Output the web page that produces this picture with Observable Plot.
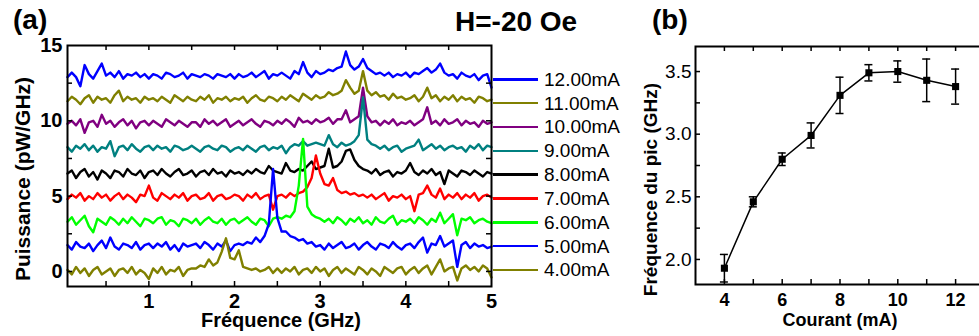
<!DOCTYPE html>
<html><head><meta charset="utf-8">
<script src="https://cdn.jsdelivr.net/npm/d3@7"></script>
<script src="https://cdn.jsdelivr.net/npm/@observablehq/plot@0.6"></script>
<style>
html,body{margin:0;padding:0;background:#fff;overflow:hidden}
#root{position:relative;width:979px;height:336px;overflow:hidden;font-family:Arial,"Liberation Sans",sans-serif}
#legend{position:absolute;left:493px;top:67.4px;font-size:19px;color:#000}
#legend .row{display:flex;align-items:center;height:23.84px}
#legend .sw{display:inline-block;width:45px;height:2.5px;margin-right:6px}
#legend .lb{line-height:1;white-space:nowrap}
</style></head>
<body><div id="root"></div>
<script>
// ---------- DATA ----------
const currents = [4, 5, 6, 7, 8, 9, 10, 11, 12];               // mA
const colors = ["#808000", "#0000ff", "#00ff00", "#ff0000", "#000000", "#008080", "#800080", "#808000", "#0000ff"];
const offsets = [0, 1.65, 3.3, 4.9, 6.5, 8.15, 9.8, 11.4, 13.0]; // vertical stacking offsets (pW/GHz)
const freqStart = 0.05, freqStep = 0.05, freqCount = 100;       // GHz sampling grid
const freq = d3.range(freqCount).map(i => +(freqStart + i * freqStep).toFixed(2));

// power spectral density (pW/GHz, relative to each trace's offset)
const p4 = [
 0.1,-0.2,0.3,-0.1,0.2,-0.3,0.1,0.3,-0.2,0.0,
 0.2,-0.3,0.1,0.2,-0.1,0.3,-0.2,0.1,-0.1,-0.5,
 0.2,-0.1,0.3,-0.2,0.1,0.0,0.3,-0.3,0.1,0.2,
 0.2,0.4,0.3,0.8,0.4,0.6,1.3,2.2,0.9,0.8,
 1.4,0.3,0.2,0.1,0.2,0.0,0.1,0.3,-0.1,0.2,
 -0.1,0.2,0.0,0.3,-0.2,0.1,0.2,-0.1,0.3,0.0,
 0.2,-0.3,0.1,0.3,-0.1,0.2,0.0,-0.2,0.3,0.1,
 -0.2,0.2,0.0,-0.3,0.3,0.1,-0.1,0.2,0.3,-0.2,
 0.1,0.3,-0.1,0.2,0.4,-0.2,0.3,0.8,0.0,0.2,
 0.3,-0.6,0.2,0.4,0.1,0.3,0.0,0.4,0.2,-0.4];
const p5 = [
 0.1,-0.2,0.3,0.0,-0.1,0.2,-0.3,0.1,0.4,-0.1,
 0.6,0.0,-0.2,0.2,0.1,-0.1,0.3,-0.2,0.1,0.2,
 -0.1,0.2,0.0,0.3,-0.2,0.1,-0.3,0.2,0.0,0.1,
 0.2,-0.1,0.3,0.1,-0.2,0.2,0.0,0.4,-0.3,0.1,
 0.2,0.1,0.3,0.2,0.6,0.3,0.7,1.5,5.15,1.9,
 1.0,1.0,0.7,0.6,0.4,0.5,0.2,0.3,0.0,0.1,
 -0.2,0.2,-0.1,0.1,0.3,-0.1,0.0,0.2,-0.2,0.1,
 0.3,0.0,-0.2,0.2,0.1,-0.1,0.3,0.0,-0.2,0.1,
 0.2,-0.1,0.3,0.6,-0.4,0.2,0.1,0.7,0.0,0.2,
 0.4,-1.35,0.1,0.3,-0.1,0.2,0.0,0.1,-0.1,0.0];
const p6 = [
 0.0,0.3,-0.2,0.1,0.4,-0.3,-0.7,0.2,0.0,-0.2,
 0.3,0.1,-0.2,0.2,-0.1,0.3,0.0,-0.3,0.2,0.1,
 -0.1,0.2,0.3,-0.2,0.1,0.0,-0.3,0.2,0.1,-0.1,
 0.2,-0.2,0.1,0.3,0.0,-0.1,0.2,-0.2,0.1,0.2,
 -0.1,0.1,0.3,0.0,-0.2,0.2,0.1,-0.3,0.2,0.3,
 0.2,0.4,0.3,0.7,2.4,5.5,1.0,0.5,0.3,0.2,
 0.0,0.2,-0.1,0.3,0.1,-0.2,0.2,0.0,0.3,-0.1,
 0.1,-0.2,0.3,0.0,-0.1,0.2,0.4,-0.2,0.1,0.0,
 0.2,-0.1,0.3,0.1,-0.2,0.2,0.0,0.6,-0.1,0.2,
 0.5,-0.9,0.2,0.1,0.3,-0.1,0.1,0.2,0.0,-0.1];
const p7 = [
 -0.1,0.2,0.0,0.3,-0.2,0.1,-0.1,0.3,0.0,0.2,
 -0.2,0.1,0.3,-0.1,0.2,0.0,-0.3,0.2,0.1,0.8,
 0.0,-0.2,0.3,0.1,-0.1,0.2,0.0,0.3,-0.2,0.1,
 0.2,-0.1,0.0,0.3,-0.2,0.1,0.2,-0.1,0.0,0.2,
 0.1,-0.2,0.2,0.0,0.3,-0.1,0.1,0.2,-0.8,0.1,
 0.2,0.0,0.3,0.1,0.3,0.4,0.7,1.3,2.8,1.6,
 0.9,0.8,1.3,0.5,0.3,0.4,0.2,0.3,0.1,0.2,
 0.0,0.2,-0.1,0.1,0.3,-0.2,0.1,0.0,0.2,-0.1,
 0.1,-0.9,0.2,0.3,0.8,0.2,0.0,0.6,-0.1,0.2,
 0.0,0.3,-0.1,0.2,0.0,0.3,-0.2,0.1,0.2,0.0];
const p8 = [
 0.0,0.2,-0.3,0.1,0.3,-0.2,0.1,-0.4,0.2,0.0,
 -0.3,0.2,0.1,-0.2,0.3,0.0,-0.1,0.2,-0.3,0.1,
 0.2,-0.1,0.3,0.0,-0.2,0.1,0.3,-0.1,0.0,0.2,
 -0.2,0.1,0.2,-0.1,0.3,0.0,0.1,-0.2,0.2,0.0,
 0.1,-0.1,0.2,0.0,0.3,0.1,0.0,0.5,0.2,0.1,
 0.0,0.7,0.2,0.1,0.3,0.2,0.5,0.8,0.3,0.4,
 0.5,1.65,0.4,0.5,0.8,1.5,1.6,0.9,0.5,0.3,
 0.2,0.0,0.3,-0.1,0.1,0.2,-0.2,0.1,0.0,0.2,
 0.7,0.1,-0.1,0.2,0.0,0.3,-0.1,0.1,-0.7,0.2,
 0.0,-0.2,0.2,0.1,-0.1,0.2,0.0,-0.2,0.1,0.0];
const p9 = [
 0.1,-0.2,0.2,0.0,0.3,-0.1,0.2,-0.2,0.1,0.0,
 0.5,-0.5,0.1,0.2,-0.1,0.3,0.0,-0.2,0.1,0.2,
 -0.1,0.2,0.0,0.1,-0.2,0.2,0.1,-0.1,0.0,0.2,
 0.0,-0.2,0.1,0.2,0.0,-0.1,0.2,0.1,-0.2,0.0,
 0.1,-0.1,0.2,0.0,-0.2,0.1,0.2,-0.1,0.1,0.0,
 0.2,-0.3,0.1,0.3,0.2,0.5,0.2,0.3,0.4,0.3,
 0.2,0.9,0.3,0.1,0.4,0.2,0.3,0.5,0.9,3.4,
 0.6,0.3,0.2,0.0,0.2,-0.1,0.1,0.2,-0.2,0.0,
 0.1,0.2,0.6,-0.1,0.1,0.3,0.0,0.2,-0.1,0.1,
 0.2,0.0,0.1,-0.2,0.2,0.0,0.3,-0.1,0.2,0.1];
const p10 = [
 0.0,0.2,-0.1,0.3,-0.6,0.1,0.2,-0.2,0.6,0.0,
 0.2,-0.2,0.1,0.3,-0.1,0.2,-0.3,0.1,0.2,-0.1,
 0.2,0.0,-0.2,0.3,0.1,-0.1,0.2,0.0,-0.2,0.1,
 0.1,-0.2,0.3,0.0,0.2,-0.1,0.1,0.3,-0.2,0.0,
 0.2,-0.1,0.1,0.3,0.0,-0.2,0.2,0.1,-0.1,0.2,
 0.0,0.3,0.1,-0.2,0.4,0.1,0.2,0.0,0.3,0.1,
 0.2,0.4,0.0,0.3,0.3,0.9,0.1,0.3,0.5,2.4,
 0.5,0.1,0.2,-0.1,0.2,0.0,0.3,-0.1,0.1,0.0,
 0.2,-0.1,0.1,0.3,1.1,0.0,0.2,-0.1,0.3,0.0,
 0.1,0.3,-0.1,0.2,0.0,0.1,-0.2,0.2,0.0,0.1];
const p11 = [
 -0.1,0.2,0.0,-0.3,0.1,0.3,-0.2,0.2,0.0,0.1,
 -0.2,0.3,0.6,-0.1,0.2,0.0,0.1,-0.2,0.2,0.0,
 0.1,-0.1,0.2,0.0,-0.2,0.3,0.1,-0.1,0.2,0.0,
 -0.1,0.2,0.0,0.3,-0.2,0.1,0.0,0.2,-0.1,0.1,
 0.0,0.2,-0.2,0.1,0.3,0.0,-0.1,0.2,0.1,-0.1,
 0.2,0.0,0.3,0.1,-0.1,0.4,0.2,0.0,0.3,0.1,
 0.2,0.5,0.3,0.4,0.6,1.3,0.8,0.4,0.6,1.9,
 0.6,0.3,0.5,0.2,0.3,0.0,0.4,0.1,0.2,0.0,
 0.1,0.3,-0.1,0.2,0.8,0.1,0.3,-0.1,0.2,0.0,
 0.3,-0.1,0.2,0.0,0.1,-0.2,0.2,0.1,-0.1,0.0];
const p12 = [
 -0.1,0.2,-0.1,-0.7,0.7,0.1,-0.2,0.3,0.8,0.0,
 0.2,-0.1,0.3,-0.2,0.1,0.0,0.2,-0.1,0.1,-0.2,
 0.1,0.0,-0.2,0.2,0.1,-0.1,0.0,0.2,-0.2,0.1,
 0.0,-0.1,0.1,0.0,-0.2,0.1,0.0,-0.1,0.1,-0.2,
 0.1,-0.1,0.0,0.2,-0.1,0.1,0.3,-0.2,0.1,0.0,
 0.2,0.0,-0.2,0.3,0.1,0.9,0.2,-0.1,0.3,0.1,
 0.2,0.4,0.3,0.5,0.6,1.6,0.7,0.4,0.6,1.1,
 0.5,0.3,0.1,0.2,0.0,0.2,-0.1,0.1,0.0,0.2,
 -0.1,0.2,0.1,0.3,0.5,0.2,0.4,0.8,0.2,0.0,
 0.1,-0.2,0.2,0.0,-0.1,0.1,-0.3,0.0,0.1,-0.8];
const spectra = [p4, p5, p6, p7, p8, p9, p10, p11, p12];

// panel (b): peak frequency vs current
const peakCurrent = [4, 5, 6, 7, 8, 9, 10, 11, 12];
const peakFreq = [1.93, 2.46, 2.80, 2.99, 3.31, 3.49, 3.50, 3.43, 3.38];
const peakErr = [0.11, 0.04, 0.05, 0.10, 0.145, 0.065, 0.085, 0.17, 0.14];

// tick values
const xMajorA = [1, 2, 3, 4, 5];
const xTicksA = [0.5, 1, 1.5, 2, 2.5, 3, 3.5, 4, 4.5];
const yMajorA = [0, 5, 10, 15];
const yTicksA = [0, 2.5, 5, 7.5, 10, 12.5];
const xMajorB = [4, 6, 8, 10, 12];
const xTicksB = [4, 5, 6, 7, 8, 9, 10, 11, 12];
const yMajorB = [2.0, 2.5, 3.0, 3.5];
const yTicksB = [2.0, 2.25, 2.5, 2.75, 3.0, 3.25, 3.5];

// ---------- DRAW ----------
const FONT = 'Arial, "Liberation Sans", sans-serif';
const root = document.getElementById("root");
const H = 336, TICK = 5;

// Panel (a)
const WA = 640, mA = {left: 67, right: 149, top: 45, bottom: 50};
const fwA = WA - mA.left - mA.right, fhA = H - mA.top - mA.bottom;
const series = currents.map((c, i) => ({current: c, color: colors[i], offset: offsets[i], values: spectra[i]}));

const plotA = Plot.plot({
  width: WA, height: H,
  marginLeft: mA.left, marginRight: mA.right, marginTop: mA.top, marginBottom: mA.bottom,
  x: {domain: [0.05, 5]},
  y: {domain: [-1, 15]},
  style: {fontFamily: FONT, fontSize: "20px", fontWeight: "bold", background: "transparent", color: "#000"},
  marks: [
    ...series.slice().reverse().map(s =>
      Plot.lineY(s.values, {x: (d, i) => freq[i], y: d => d + s.offset, stroke: s.color, strokeWidth: 2.4})),
    Plot.ruleX(xTicksA, {x: d => d, insetTop: fhA - TICK, strokeWidth: 1.5}),
    Plot.ruleX(xTicksA, {x: d => d, insetBottom: fhA - TICK, strokeWidth: 1.5}),
    Plot.ruleY(yTicksA, {y: d => d, insetRight: fwA - TICK, strokeWidth: 1.5}),
    Plot.ruleY(yTicksA, {y: d => d, insetLeft: fwA - TICK, strokeWidth: 1.5}),
    Plot.frame({stroke: "black", strokeWidth: 2}),
    Plot.axisX(xMajorA, {tickSize: 0, tickPadding: 7, fontSize: 20, fontWeight: "bold", label: null}),
    Plot.axisY(yMajorA, {tickSize: 0, tickPadding: 5, fontSize: 20, fontWeight: "bold", label: null})
  ]
});
plotA.style.position = "absolute"; plotA.style.left = "0px"; plotA.style.top = "0px";
root.appendChild(plotA);

// Panel (b)
const WB = 344, mB = {left: 55, right: 0, top: 46, bottom: 52};
const fwB = WB - mB.left - mB.right, fhB = H - mB.top - mB.bottom;
const peakData = peakCurrent.map((c, i) => ({current: c, freq: peakFreq[i], err: peakErr[i]}));

const plotB = Plot.plot({
  width: WB, height: H,
  marginLeft: mB.left, marginRight: mB.right, marginTop: mB.top, marginBottom: mB.bottom,
  x: {domain: [3, 13]},
  y: {domain: [1.8, 3.7]},
  style: {fontFamily: FONT, fontSize: "19px", background: "transparent", color: "#000"},
  marks: [
    Plot.frame({stroke: "black", strokeWidth: 2}),
    Plot.ruleX(xTicksB, {x: d => d, insetTop: fhB - TICK, strokeWidth: 1.5}),
    Plot.ruleX(xTicksB, {x: d => d, insetBottom: fhB - TICK, strokeWidth: 1.5}),
    Plot.ruleY(yTicksB, {y: d => d, insetRight: fwB - TICK, strokeWidth: 1.5}),
    Plot.axisX(xMajorB, {tickSize: 0, tickPadding: 9, fontSize: 18, fontWeight: "bold", label: null}),
    Plot.axisY(yMajorB, {tickSize: 0, tickPadding: 4, fontSize: 19, fontWeight: "normal", tickFormat: d3.format(".1f"), label: null}),
    Plot.line(peakData, {x: "current", y: "freq", stroke: "black", strokeWidth: 1.5}),
    Plot.ruleX(peakData, {x: "current", y1: d => d.freq - d.err, y2: d => d.freq + d.err, stroke: "black", strokeWidth: 1.5}),
    Plot.ruleY(peakData, {y: d => d.freq + d.err, x1: "current", x2: "current", insetLeft: -4, insetRight: -4, stroke: "black", strokeWidth: 1.5}),
    Plot.ruleY(peakData, {y: d => d.freq - d.err, x1: "current", x2: "current", insetLeft: -4, insetRight: -4, stroke: "black", strokeWidth: 1.5}),
    Plot.dot(peakData, {x: "current", y: "freq", symbol: "square", r: 4, fill: "black", stroke: "none"})
  ]
});
plotB.style.position = "absolute"; plotB.style.left = "640px"; plotB.style.top = "0px";
root.appendChild(plotB);

// Legend for panel (a)
const legend = d3.select(root).append("div").attr("id", "legend");
const rows = legend.selectAll(".row").data(series.slice().reverse()).join("div").attr("class", "row");
rows.append("span").attr("class", "sw").style("background", d => d.color);
rows.append("span").attr("class", "lb").text(d => d3.format(".2f")(d.current) + "mA");

// Titles and axis labels
const ov = d3.select(root).append("svg").attr("width", 979).attr("height", H)
  .style("position", "absolute").style("left", "0px").style("top", "0px")
  .style("font-family", FONT).style("font-weight", "bold");
const labels = [
  {t: "(a)", x: 13, y: 29, s: 28, a: "start", r: 0},
  {t: "H=-20 Oe", x: 455, y: 31, s: 28, a: "start", r: 0},
  {t: "(b)", x: 652, y: 29, s: 28, a: "start", r: 0},
  {t: "Fréquence (GHz)", x: 281, y: 327, s: 20, a: "middle", r: 0},
  {t: "Courant (mA)", x: 840, y: 325.5, s: 18, a: "middle", r: 0},
  {t: "Puissance (pW/GHz)", x: 22, y: 179, s: 21, a: "middle", r: -90},
  {t: "Fréquence du pic (GHz)", x: 650, y: 189.5, s: 19, a: "middle", r: -90}
];
ov.selectAll("text").data(labels).join("text")
  .attr("transform", d => `translate(${d.x},${d.y}) rotate(${d.r})`)
  .attr("text-anchor", d => d.a)
  .attr("dominant-baseline", d => d.r ? "central" : "auto")
  .attr("font-size", d => d.s)
  .attr("fill", "#000")
  .text(d => d.t);
</script>
</body></html>
